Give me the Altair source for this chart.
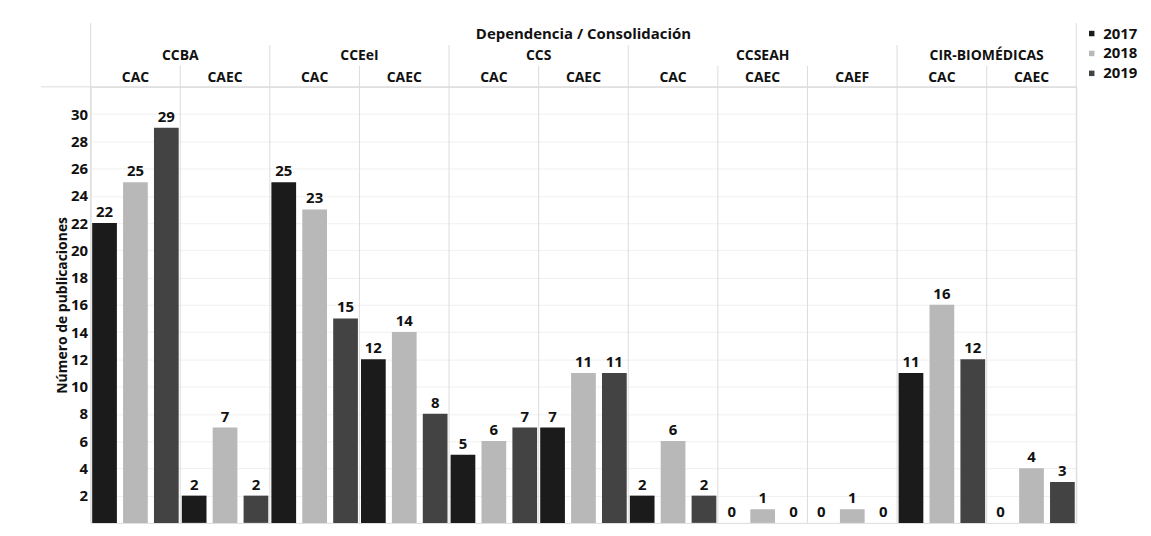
import altair as alt
import pandas as pd

dep = ["CCBA", "CCBA", "CCEeI", "CCEeI", "CCS", "CCS",
       "CCSEAH", "CCSEAH", "CCSEAH", "CIR-BIOMÉDICAS", "CIR-BIOMÉDICAS"]
cons = ["CAC", "CAEC", "CAC", "CAEC", "CAC", "CAEC",
        "CAC", "CAEC", "CAEF", "CAC", "CAEC"]
years = ["2017", "2018", "2019"]
v2017 = [22, 2, 25, 12, 5, 7, 2, 0, 0, 11, 0]
v2018 = [25, 7, 23, 14, 6, 11, 6, 1, 1, 16, 4]
v2019 = [29, 2, 15, 8, 7, 11, 2, 0, 0, 12, 3]
colors = ["#1b1b1b", "#b8b8b8", "#434343"]
y_ticks = list(range(2, 31, 2))
title_text = "Dependencia / Consolidación"

keys = [f"{d}|{c}" for d, c in zip(dep, cons)]
rows = []
for i, (d, c) in enumerate(zip(dep, cons)):
    n = dep.count(d)
    pos = i - dep.index(d)
    for y, vals in zip(years, [v2017, v2018, v2019]):
        rows.append({"key": keys[i], "dep": d, "cons": c, "year": y,
                     "value": vals[i], "pos": pos, "n": n, "idx": i,
                     "nall": len(dep)})
df = pd.DataFrame(rows)

FONT = "Open Sans"
W, H = 990, 438
GRID = "#dcdcdc"
TXT = "#111"

xscale = alt.Scale(domain=keys, paddingInner=0, paddingOuter=0)


def xk(bp=0.5):
    return alt.X("key:N", sort=keys, scale=xscale, axis=None, bandPosition=bp)


yenc = alt.Y("value:Q", scale=alt.Scale(domain=[0, 32], nice=False),
             axis=alt.Axis(title="Número de publicaciones", values=y_ticks,
                           domain=False, ticks=False, labelFontSize=15,
                           labelFontWeight="bold", labelColor=TXT,
                           titleFontSize=14, titleFontWeight="bold",
                           titleColor=TXT, gridColor="#f0f0f0",
                           labelPadding=3, titlePadding=1))

base = alt.Chart(df).encode(
    x=alt.X("key:N", sort=keys, scale=xscale, axis=None),
    xOffset=alt.XOffset("year:N", sort=years,
                        scale=alt.Scale(paddingInner=0.2, paddingOuter=0.05)),
    y=yenc,
)
bars = base.mark_bar().encode(
    color=alt.Color("year:N", sort=years,
                    scale=alt.Scale(domain=years, range=colors),
                    legend=alt.Legend(title=None, symbolType="square",
                                      symbolSize=30, labelFontSize=15,
                                      labelFontWeight="bold", labelColor=TXT,
                                      rowPadding=4, orient="none",
                                      legendX=998, legendY=-61))
)
labels = base.mark_text(baseline="bottom", dy=-3, fontSize=15,
                        fontWeight="bold", color=TXT).encode(text="value:Q")

one = "datum.year == '2017'"
sep = alt.Chart(df).transform_filter(f"{one} && datum.pos > 0").mark_rule(
    color=GRID).encode(x=xk(0), y=alt.value(-21), y2=alt.value(H))
depsep = alt.Chart(df).transform_filter(
    f"{one} && datum.pos == 0 && datum.idx > 0").mark_rule(
    color=GRID).encode(x=xk(0), y=alt.value(-42), y2=alt.value(H))
firstsep = alt.Chart(df).transform_filter(f"{one} && datum.idx == 0").mark_rule(
    color=GRID).encode(x=xk(0), y=alt.value(-64), y2=alt.value(H))
lastsep = alt.Chart(df).transform_filter(
    f"{one} && datum.idx == datum.nall - 1").mark_rule(color=GRID).encode(
    x=xk(1), y=alt.value(-64), y2=alt.value(H))
hline = alt.Chart(df).transform_filter(f"{one} && datum.idx == 0").mark_rule(
    color=GRID).encode(x=alt.value(-50), x2=alt.value(W), y=alt.value(0))

hdr = dict(fontSize=14, fontWeight="bold", color=TXT, baseline="middle")
conslab = alt.Chart(df).transform_filter(one).mark_text(**hdr).encode(
    x=xk(0.5), y=alt.value(-9), text="cons:N")
dep2 = alt.Chart(df).transform_filter(
    f"{one} && datum.n == 2 && datum.pos == 0").mark_text(**hdr).encode(
    x=xk(1), y=alt.value(-31), text="dep:N")
dep3 = alt.Chart(df).transform_filter(
    f"{one} && datum.n == 3 && datum.pos == 1").mark_text(**hdr).encode(
    x=xk(0.5), y=alt.value(-31), text="dep:N")
ttl = alt.Chart(df).transform_filter(f"{one} && datum.idx == 0").mark_text(
    fontSize=15, fontWeight="bold", color=TXT, baseline="middle",
    text=title_text).encode(x=alt.value(W / 2), y=alt.value(-53))

chart = alt.layer(sep, depsep, firstsep, lastsep, hline, bars, labels,
                  conslab, dep2, dep3, ttl).properties(
    width=W, height=H,
    padding={"left": 32, "top": 13, "right": 5, "bottom": 5},
).configure(font=FONT).configure_view(stroke=GRID, strokeWidth=1)

chart.save("out.html", embed_options={"renderer": "svg", "actions": False})
